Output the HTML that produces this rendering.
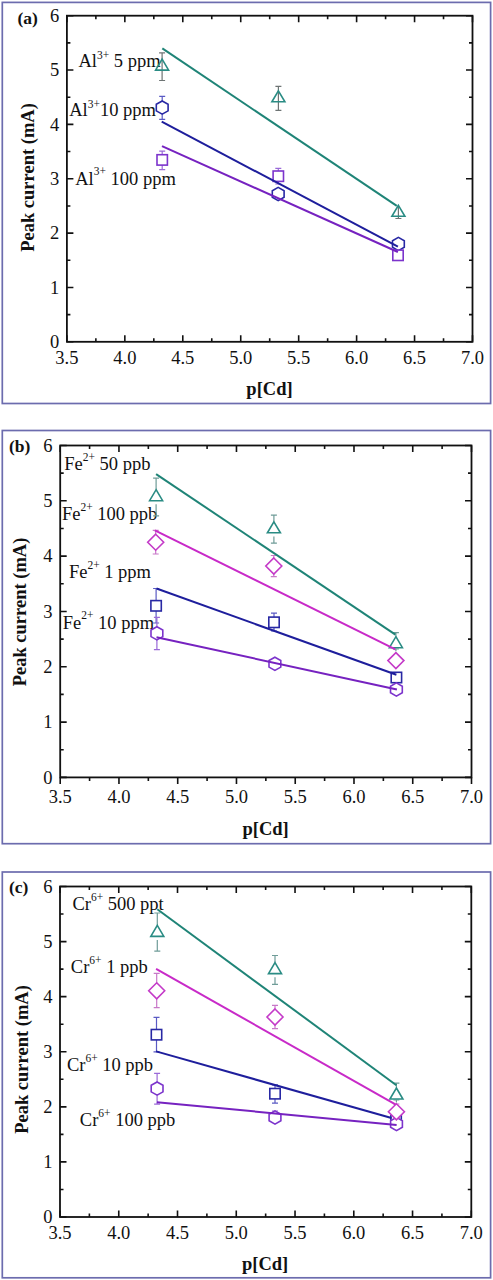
<!DOCTYPE html><html><head><meta charset="utf-8"><style>html,body{margin:0;padding:0;background:#fff;}svg{display:block;}</style></head><body>
<svg width="493" height="1280" viewBox="0 0 493 1280" font-family="'Liberation Serif', serif" fill="#111">
<rect x="2.3" y="2.4" width="488.3" height="401.1" fill="none" stroke="#6c6cae" stroke-width="1.7"/>
<rect x="66.9" y="15.7" width="405.6" height="326.1" fill="none" stroke="#111" stroke-width="1.8"/>
<path d="M66.90,341.8v-6.5 M66.90,15.7v6.5 M95.87,341.8v-3.5 M95.87,15.7v3.5 M124.84,341.8v-6.5 M124.84,15.7v6.5 M153.81,341.8v-3.5 M153.81,15.7v3.5 M182.79,341.8v-6.5 M182.79,15.7v6.5 M211.76,341.8v-3.5 M211.76,15.7v3.5 M240.73,341.8v-6.5 M240.73,15.7v6.5 M269.70,341.8v-3.5 M269.70,15.7v3.5 M298.67,341.8v-6.5 M298.67,15.7v6.5 M327.64,341.8v-3.5 M327.64,15.7v3.5 M356.61,341.8v-6.5 M356.61,15.7v6.5 M385.59,341.8v-3.5 M385.59,15.7v3.5 M414.56,341.8v-6.5 M414.56,15.7v6.5 M443.53,341.8v-3.5 M443.53,15.7v3.5 M472.50,341.8v-6.5 M472.50,15.7v6.5 M66.9,341.80h6.5 M472.5,341.80h-6.5 M66.9,314.62h3.5 M472.5,314.62h-3.5 M66.9,287.45h6.5 M472.5,287.45h-6.5 M66.9,260.27h3.5 M472.5,260.27h-3.5 M66.9,233.10h6.5 M472.5,233.10h-6.5 M66.9,205.93h3.5 M472.5,205.93h-3.5 M66.9,178.75h6.5 M472.5,178.75h-6.5 M66.9,151.57h3.5 M472.5,151.57h-3.5 M66.9,124.40h6.5 M472.5,124.40h-6.5 M66.9,97.22h3.5 M472.5,97.22h-3.5 M66.9,70.05h6.5 M472.5,70.05h-6.5 M66.9,42.88h3.5 M472.5,42.88h-3.5 M66.9,15.70h6.5 M472.5,15.70h-6.5" stroke="#111" stroke-width="1.6" fill="none"/>
<text x="59.300000000000004" y="348.10" text-anchor="end" font-size="18.5">0</text>
<text x="59.300000000000004" y="293.75" text-anchor="end" font-size="18.5">1</text>
<text x="59.300000000000004" y="239.40" text-anchor="end" font-size="18.5">2</text>
<text x="59.300000000000004" y="185.05" text-anchor="end" font-size="18.5">3</text>
<text x="59.300000000000004" y="130.70" text-anchor="end" font-size="18.5">4</text>
<text x="59.300000000000004" y="76.35" text-anchor="end" font-size="18.5">5</text>
<text x="59.300000000000004" y="22.00" text-anchor="end" font-size="18.5">6</text>
<text x="66.90" y="364" text-anchor="middle" font-size="18.5">3.5</text>
<text x="124.84" y="364" text-anchor="middle" font-size="18.5">4.0</text>
<text x="182.79" y="364" text-anchor="middle" font-size="18.5">4.5</text>
<text x="240.73" y="364" text-anchor="middle" font-size="18.5">5.0</text>
<text x="298.67" y="364" text-anchor="middle" font-size="18.5">5.5</text>
<text x="356.61" y="364" text-anchor="middle" font-size="18.5">6.0</text>
<text x="414.56" y="364" text-anchor="middle" font-size="18.5">6.5</text>
<text x="472.50" y="364" text-anchor="middle" font-size="18.5">7.0</text>
<text x="269.5" y="394.5" text-anchor="middle" font-size="18.5" font-weight="bold">p[Cd]</text>
<text transform="translate(33.6,177.5) rotate(-90)" text-anchor="middle" font-size="18.5" font-weight="bold">Peak current (mA)</text>
<text x="17.5" y="24.2" font-size="17.5" font-weight="bold">(a)</text>
<text x="78.5" y="66.8" font-size="18.5">Al<tspan font-size="11.47" dy="-7.7">3+</tspan><tspan dy="7.7"> 5 ppm</tspan></text>
<text x="69.2" y="116.4" font-size="18.5">Al<tspan font-size="11.47" dy="-8.8">3+</tspan><tspan dy="8.8">10 ppm</tspan></text>
<text x="75.2" y="184.6" font-size="18.5">Al<tspan font-size="11.47" dy="-9.2">3+</tspan><tspan dy="9.2"> 100 ppm</tspan></text>
<path d="M162.1,52.8V80.5M159.1,52.8h6M159.1,80.5h6" stroke="#6e7474" stroke-width="1.2" fill="none"/>
<path d="M162.1,59.1L168.6,70.10000000000001H155.6Z" stroke="#2a8c84" stroke-width="1.6" fill="none" stroke-linejoin="miter"/>
<path d="M278.4,86.3V110.3M275.4,86.3h6M275.4,110.3h6" stroke="#6e7474" stroke-width="1.2" fill="none"/>
<path d="M278.4,90.80000000000001L284.9,101.80000000000001H271.9Z" stroke="#2a8c84" stroke-width="1.6" fill="none" stroke-linejoin="miter"/>
<path d="M398.4,205V218.5M395.4,218.5h6" stroke="#6e7474" stroke-width="1.2" fill="none"/>
<path d="M398.4,205.3L404.9,216.3H391.9Z" stroke="#2a8c84" stroke-width="1.6" fill="none" stroke-linejoin="miter"/>
<path d="M162.2,96.3V101.0M162.2,114.19999999999999V119.4M159.2,96.3h6M159.2,119.4h6" stroke="#5a5ac4" stroke-width="1.2" fill="none"/>
<path d="M162.2,101.0L168.1,104.3V110.89999999999999L162.2,114.19999999999999L156.29999999999998,110.89999999999999V104.3Z" stroke="#2828a4" stroke-width="1.6" fill="#fff"/>
<path d="M278.2,190V187.4M278.2,200.6V198M275.2,190h6M275.2,198h6" stroke="#5a5ac4" stroke-width="1.2" fill="none"/>
<path d="M278.2,187.4L284.09999999999997,190.7V197.3L278.2,200.6L272.3,197.3V190.7Z" stroke="#2828a4" stroke-width="1.6" fill="#fff"/>
<path d="M398.4,240V237.4M398.4,250.6V248M395.4,240h6M395.4,248h6" stroke="#5a5ac4" stroke-width="1.2" fill="none"/>
<path d="M398.4,237.4L404.29999999999995,240.7V247.3L398.4,250.6L392.5,247.3V240.7Z" stroke="#2828a4" stroke-width="1.6" fill="#fff"/>
<path d="M162.2,151.1V154.70000000000002M162.2,165.1V169.6M159.2,151.1h6M159.2,169.6h6" stroke="#9a6ad8" stroke-width="1.2" fill="none"/>
<rect x="157.0" y="154.70000000000002" width="10.4" height="10.4" stroke="#7c34cc" stroke-width="1.6" fill="#fff"/>
<path d="M278.3,168.3V171.0M278.3,181.39999999999998V184M275.3,168.3h6M275.3,184h6" stroke="#9a6ad8" stroke-width="1.2" fill="none"/>
<rect x="273.1" y="171.0" width="10.4" height="10.4" stroke="#7c34cc" stroke-width="1.6" fill="#fff"/>
<path d="M398,252V250.10000000000002M398,260.5V258M395.0,252h6M395.0,258h6" stroke="#9a6ad8" stroke-width="1.2" fill="none"/>
<rect x="392.8" y="250.10000000000002" width="10.4" height="10.4" stroke="#7c34cc" stroke-width="1.6" fill="#fff"/>
<line x1="162.3" y1="48.4" x2="396.8" y2="205.9" stroke="#1f8477" stroke-width="2"/>
<line x1="161.7" y1="121.6" x2="397.9" y2="246.7" stroke="#1e1e9c" stroke-width="2"/>
<line x1="162" y1="146.1" x2="397.9" y2="252" stroke="#7622c0" stroke-width="2"/>
<rect x="2.3" y="430.5" width="488.3" height="413.20000000000005" fill="none" stroke="#6c6cae" stroke-width="1.7"/>
<rect x="60.2" y="445.5" width="411.3" height="331.9" fill="none" stroke="#111" stroke-width="1.8"/>
<path d="M60.20,777.4v6.5 M60.20,445.5v6.5 M89.58,777.4v3.5 M89.58,445.5v3.5 M118.96,777.4v6.5 M118.96,445.5v6.5 M148.34,777.4v3.5 M148.34,445.5v3.5 M177.71,777.4v6.5 M177.71,445.5v6.5 M207.09,777.4v3.5 M207.09,445.5v3.5 M236.47,777.4v6.5 M236.47,445.5v6.5 M265.85,777.4v3.5 M265.85,445.5v3.5 M295.23,777.4v6.5 M295.23,445.5v6.5 M324.61,777.4v3.5 M324.61,445.5v3.5 M353.99,777.4v6.5 M353.99,445.5v6.5 M383.36,777.4v3.5 M383.36,445.5v3.5 M412.74,777.4v6.5 M412.74,445.5v6.5 M442.12,777.4v3.5 M442.12,445.5v3.5 M471.50,777.4v6.5 M471.50,445.5v6.5 M60.2,777.40h6.5 M471.5,777.40h-6.5 M60.2,749.74h3.5 M471.5,749.74h-3.5 M60.2,722.08h6.5 M471.5,722.08h-6.5 M60.2,694.42h3.5 M471.5,694.42h-3.5 M60.2,666.77h6.5 M471.5,666.77h-6.5 M60.2,639.11h3.5 M471.5,639.11h-3.5 M60.2,611.45h6.5 M471.5,611.45h-6.5 M60.2,583.79h3.5 M471.5,583.79h-3.5 M60.2,556.13h6.5 M471.5,556.13h-6.5 M60.2,528.48h3.5 M471.5,528.48h-3.5 M60.2,500.82h6.5 M471.5,500.82h-6.5 M60.2,473.16h3.5 M471.5,473.16h-3.5 M60.2,445.50h6.5 M471.5,445.50h-6.5" stroke="#111" stroke-width="1.6" fill="none"/>
<text x="52.6" y="783.70" text-anchor="end" font-size="18.5">0</text>
<text x="52.6" y="728.38" text-anchor="end" font-size="18.5">1</text>
<text x="52.6" y="673.07" text-anchor="end" font-size="18.5">2</text>
<text x="52.6" y="617.75" text-anchor="end" font-size="18.5">3</text>
<text x="52.6" y="562.43" text-anchor="end" font-size="18.5">4</text>
<text x="52.6" y="507.12" text-anchor="end" font-size="18.5">5</text>
<text x="52.6" y="451.80" text-anchor="end" font-size="18.5">6</text>
<text x="60.20" y="803.3" text-anchor="middle" font-size="18.5">3.5</text>
<text x="118.96" y="803.3" text-anchor="middle" font-size="18.5">4.0</text>
<text x="177.71" y="803.3" text-anchor="middle" font-size="18.5">4.5</text>
<text x="236.47" y="803.3" text-anchor="middle" font-size="18.5">5.0</text>
<text x="295.23" y="803.3" text-anchor="middle" font-size="18.5">5.5</text>
<text x="353.99" y="803.3" text-anchor="middle" font-size="18.5">6.0</text>
<text x="412.74" y="803.3" text-anchor="middle" font-size="18.5">6.5</text>
<text x="471.50" y="803.3" text-anchor="middle" font-size="18.5">7.0</text>
<text x="265.6" y="835" text-anchor="middle" font-size="18.5" font-weight="bold">p[Cd]</text>
<text transform="translate(25.5,612) rotate(-90)" text-anchor="middle" font-size="18.5" font-weight="bold">Peak current (mA)</text>
<text x="9" y="451.5" font-size="17.5" font-weight="bold">(b)</text>
<text x="64.2" y="469.9" font-size="18.5">Fe<tspan font-size="11.47" dy="-9.2">2+</tspan><tspan dy="9.2"> 50 ppb</tspan></text>
<text x="61.9" y="520.1" font-size="18.5">Fe<tspan font-size="11.47" dy="-9.3">2+</tspan><tspan dy="9.3"> 100 ppb</tspan></text>
<text x="68.9" y="577.8" font-size="18.5">Fe<tspan font-size="11.47" dy="-9.3">2+</tspan><tspan dy="9.3"> 1 ppm</tspan></text>
<text x="62.7" y="628.5" font-size="18.5">Fe<tspan font-size="11.47" dy="-9.3">2+</tspan><tspan dy="9.3"> 10 ppm</tspan></text>
<path d="M156.1,478.1V489.7M156.1,504.3V515.8M153.1,478.1h6M153.1,515.8h6" stroke="#6f9c98" stroke-width="1.2" fill="none"/>
<path d="M156.1,489.7L162.6,500.7H149.6Z" stroke="#2a8c84" stroke-width="1.6" fill="#fff" stroke-linejoin="miter"/>
<path d="M273.9,515.2V521.8M273.9,536.4V543.2M270.9,515.2h6M270.9,543.2h6" stroke="#6f9c98" stroke-width="1.2" fill="none"/>
<path d="M273.9,521.8L280.4,532.8H267.4Z" stroke="#2a8c84" stroke-width="1.6" fill="#fff" stroke-linejoin="miter"/>
<path d="M395.9,632.7V636.6999999999999M395.9,651.3V649M392.9,632.7h6M392.9,649h6" stroke="#6f9c98" stroke-width="1.2" fill="none"/>
<path d="M395.9,636.6999999999999L402.4,647.6999999999999H389.4Z" stroke="#2a8c84" stroke-width="1.6" fill="#fff" stroke-linejoin="miter"/>
<path d="M155.7,530.4V534.2M155.7,550.2V554M152.7,530.4h6M152.7,554h6" stroke="#c878c8" stroke-width="1.2" fill="none"/>
<path d="M155.7,534.2L163.7,542.2L155.7,550.2L147.7,542.2Z" stroke="#c43ac8" stroke-width="1.6" fill="#fff"/>
<path d="M273.8,555.5V558M273.8,574V576.6M270.8,555.5h6M270.8,576.6h6" stroke="#c878c8" stroke-width="1.2" fill="none"/>
<path d="M273.8,558L281.8,566L273.8,574L265.8,566Z" stroke="#c43ac8" stroke-width="1.6" fill="#fff"/>
<path d="M395.9,656V652.6M395.9,668.6V665M392.9,656h6M392.9,665h6" stroke="#c878c8" stroke-width="1.2" fill="none"/>
<path d="M395.9,652.6L403.9,660.6L395.9,668.6L387.9,660.6Z" stroke="#c43ac8" stroke-width="1.6" fill="#fff"/>
<path d="M156.1,588.5V600.5999999999999M156.1,611.0V623M153.1,588.5h6M153.1,623h6" stroke="#5a5ac4" stroke-width="1.2" fill="none"/>
<rect x="150.9" y="600.5999999999999" width="10.4" height="10.4" stroke="#2828a4" stroke-width="1.6" fill="#fff"/>
<path d="M274,613.2V617.0999999999999M274,627.5V631M271.0,613.2h6M271.0,631h6" stroke="#5a5ac4" stroke-width="1.2" fill="none"/>
<rect x="268.8" y="617.0999999999999" width="10.4" height="10.4" stroke="#2828a4" stroke-width="1.6" fill="#fff"/>
<path d="M396.4,675V672.3M396.4,682.7V680M393.4,675h6M393.4,680h6" stroke="#5a5ac4" stroke-width="1.2" fill="none"/>
<rect x="391.2" y="672.3" width="10.4" height="10.4" stroke="#2828a4" stroke-width="1.6" fill="#fff"/>
<path d="M156.9,617.3V626.6999999999999M156.9,639.9V649.7M153.9,617.3h6M153.9,649.7h6" stroke="#9a6ad8" stroke-width="1.2" fill="none"/>
<path d="M156.9,626.6999999999999L162.8,630.0V636.5999999999999L156.9,639.9L151.0,636.5999999999999V630.0Z" stroke="#7c34cc" stroke-width="1.6" fill="#fff"/>
<path d="M274.9,660V657.1999999999999M274.9,670.4V668M271.9,660h6M271.9,668h6" stroke="#9a6ad8" stroke-width="1.2" fill="none"/>
<path d="M274.9,657.1999999999999L280.79999999999995,660.5V667.0999999999999L274.9,670.4L269.0,667.0999999999999V660.5Z" stroke="#7c34cc" stroke-width="1.6" fill="#fff"/>
<path d="M396.4,686V682.9M396.4,696.1V693M393.4,686h6M393.4,693h6" stroke="#9a6ad8" stroke-width="1.2" fill="none"/>
<path d="M396.4,682.9L402.29999999999995,686.2V692.8L396.4,696.1L390.5,692.8V686.2Z" stroke="#7c34cc" stroke-width="1.6" fill="#fff"/>
<line x1="156.1" y1="474.1" x2="395.4" y2="634.7" stroke="#1f8477" stroke-width="2"/>
<line x1="154.9" y1="530.4" x2="395.4" y2="649.4" stroke="#c82ac8" stroke-width="2"/>
<line x1="156.5" y1="588.5" x2="396.4" y2="674.8" stroke="#1e1e9c" stroke-width="2"/>
<line x1="156.5" y1="637.2" x2="396.9" y2="689.5" stroke="#7622c0" stroke-width="2"/>
<rect x="2.3" y="872" width="488.3" height="405.79999999999995" fill="none" stroke="#6c6cae" stroke-width="1.7"/>
<rect x="60" y="886.5" width="411.3" height="330.5" fill="none" stroke="#111" stroke-width="1.8"/>
<path d="M60.00,1217v-6.5 M60.00,886.5v6.5 M89.38,1217v-3.5 M89.38,886.5v3.5 M118.76,1217v-6.5 M118.76,886.5v6.5 M148.14,1217v-3.5 M148.14,886.5v3.5 M177.51,1217v-6.5 M177.51,886.5v6.5 M206.89,1217v-3.5 M206.89,886.5v3.5 M236.27,1217v-6.5 M236.27,886.5v6.5 M265.65,1217v-3.5 M265.65,886.5v3.5 M295.03,1217v-6.5 M295.03,886.5v6.5 M324.41,1217v-3.5 M324.41,886.5v3.5 M353.79,1217v-6.5 M353.79,886.5v6.5 M383.16,1217v-3.5 M383.16,886.5v3.5 M412.54,1217v-6.5 M412.54,886.5v6.5 M441.92,1217v-3.5 M441.92,886.5v3.5 M471.30,1217v-6.5 M471.30,886.5v6.5 M60,1217.00h6.5 M471.3,1217.00h-6.5 M60,1189.46h3.5 M471.3,1189.46h-3.5 M60,1161.92h6.5 M471.3,1161.92h-6.5 M60,1134.38h3.5 M471.3,1134.38h-3.5 M60,1106.83h6.5 M471.3,1106.83h-6.5 M60,1079.29h3.5 M471.3,1079.29h-3.5 M60,1051.75h6.5 M471.3,1051.75h-6.5 M60,1024.21h3.5 M471.3,1024.21h-3.5 M60,996.67h6.5 M471.3,996.67h-6.5 M60,969.12h3.5 M471.3,969.12h-3.5 M60,941.58h6.5 M471.3,941.58h-6.5 M60,914.04h3.5 M471.3,914.04h-3.5 M60,886.50h6.5 M471.3,886.50h-6.5" stroke="#111" stroke-width="1.6" fill="none"/>
<text x="52.4" y="1223.30" text-anchor="end" font-size="18.5">0</text>
<text x="52.4" y="1168.22" text-anchor="end" font-size="18.5">1</text>
<text x="52.4" y="1113.13" text-anchor="end" font-size="18.5">2</text>
<text x="52.4" y="1058.05" text-anchor="end" font-size="18.5">3</text>
<text x="52.4" y="1002.97" text-anchor="end" font-size="18.5">4</text>
<text x="52.4" y="947.88" text-anchor="end" font-size="18.5">5</text>
<text x="52.4" y="892.80" text-anchor="end" font-size="18.5">6</text>
<text x="60.00" y="1239.3" text-anchor="middle" font-size="18.5">3.5</text>
<text x="118.76" y="1239.3" text-anchor="middle" font-size="18.5">4.0</text>
<text x="177.51" y="1239.3" text-anchor="middle" font-size="18.5">4.5</text>
<text x="236.27" y="1239.3" text-anchor="middle" font-size="18.5">5.0</text>
<text x="295.03" y="1239.3" text-anchor="middle" font-size="18.5">5.5</text>
<text x="353.79" y="1239.3" text-anchor="middle" font-size="18.5">6.0</text>
<text x="412.54" y="1239.3" text-anchor="middle" font-size="18.5">6.5</text>
<text x="471.30" y="1239.3" text-anchor="middle" font-size="18.5">7.0</text>
<text x="265.1" y="1270" text-anchor="middle" font-size="18.5" font-weight="bold">p[Cd]</text>
<text transform="translate(27.5,1059.5) rotate(-90)" text-anchor="middle" font-size="18.5" font-weight="bold">Peak current (mA)</text>
<text x="9" y="892.5" font-size="17.5" font-weight="bold">(c)</text>
<text x="72.4" y="909.5" font-size="18.5">Cr<tspan font-size="11.47" dy="-8.9">6+</tspan><tspan dy="8.9"> 500 ppt</tspan></text>
<text x="70.8" y="973.1" font-size="18.5">Cr<tspan font-size="11.47" dy="-8.9">6+</tspan><tspan dy="8.9"> 1 ppb</tspan></text>
<text x="66.9" y="1070.7" font-size="18.5">Cr<tspan font-size="11.47" dy="-8.9">6+</tspan><tspan dy="8.9"> 10 ppb</tspan></text>
<text x="79.8" y="1126" font-size="18.5">Cr<tspan font-size="11.47" dy="-8.9">6+</tspan><tspan dy="8.9"> 100 ppb</tspan></text>
<path d="M157.3,913V925.4M157.3,940.0V951.1M154.3,913h6M154.3,951.1h6" stroke="#6f9c98" stroke-width="1.2" fill="none"/>
<path d="M157.3,925.4L163.8,936.4H150.8Z" stroke="#2a8c84" stroke-width="1.6" fill="#fff" stroke-linejoin="miter"/>
<path d="M275,955.5V962.6M275,977.2V984.3M272.0,955.5h6M272.0,984.3h6" stroke="#6f9c98" stroke-width="1.2" fill="none"/>
<path d="M275,962.6L281.5,973.6H268.5Z" stroke="#2a8c84" stroke-width="1.6" fill="#fff" stroke-linejoin="miter"/>
<path d="M396.4,1083.2V1088.0M396.4,1102.6V1100M393.4,1083.2h6M393.4,1100h6" stroke="#6f9c98" stroke-width="1.2" fill="none"/>
<path d="M396.4,1088.0L402.9,1099.0H389.9Z" stroke="#2a8c84" stroke-width="1.6" fill="#fff" stroke-linejoin="miter"/>
<path d="M156.5,1017.3V1029.5M156.5,1039.9V1051.8M153.5,1017.3h6M153.5,1051.8h6" stroke="#5a5ac4" stroke-width="1.2" fill="none"/>
<rect x="151.3" y="1029.5" width="10.4" height="10.4" stroke="#2828a4" stroke-width="1.6" fill="#fff"/>
<path d="M275,1084.9V1088.5M275,1098.9V1103.2M272.0,1084.9h6M272.0,1103.2h6" stroke="#5a5ac4" stroke-width="1.2" fill="none"/>
<rect x="269.8" y="1088.5" width="10.4" height="10.4" stroke="#2828a4" stroke-width="1.6" fill="#fff"/>
<path d="M396.1,1117V1115.3M396.1,1125.7V1126M393.1,1117h6M393.1,1126h6" stroke="#5a5ac4" stroke-width="1.2" fill="none"/>
<rect x="390.90000000000003" y="1115.3" width="10.4" height="10.4" stroke="#2828a4" stroke-width="1.6" fill="#fff"/>
<path d="M157.1,1073.4V1082.0M157.1,1095.1999999999998V1104.2M154.1,1073.4h6M154.1,1104.2h6" stroke="#9a6ad8" stroke-width="1.2" fill="none"/>
<path d="M157.1,1082.0L163.0,1085.3V1091.8999999999999L157.1,1095.1999999999998L151.2,1091.8999999999999V1085.3Z" stroke="#7c34cc" stroke-width="1.6" fill="#fff"/>
<path d="M275,1111V1110.9M275,1124.1V1122M272.0,1111h6M272.0,1122h6" stroke="#9a6ad8" stroke-width="1.2" fill="none"/>
<path d="M275,1110.9L280.9,1114.2V1120.8L275,1124.1L269.1,1120.8V1114.2Z" stroke="#7c34cc" stroke-width="1.6" fill="#fff"/>
<path d="M396.5,1119V1117.4M396.5,1130.6V1129M393.5,1119h6M393.5,1129h6" stroke="#9a6ad8" stroke-width="1.2" fill="none"/>
<path d="M396.5,1117.4L402.4,1120.7V1127.3L396.5,1130.6L390.6,1127.3V1120.7Z" stroke="#7c34cc" stroke-width="1.6" fill="#fff"/>
<path d="M156.7,973.4V982.8M156.7,998.8V1007.6M153.7,973.4h6M153.7,1007.6h6" stroke="#c878c8" stroke-width="1.2" fill="none"/>
<path d="M156.7,982.8L164.7,990.8L156.7,998.8L148.7,990.8Z" stroke="#c43ac8" stroke-width="1.6" fill="#fff"/>
<path d="M275,1005.4V1009M275,1025V1028.6M272.0,1005.4h6M272.0,1028.6h6" stroke="#c878c8" stroke-width="1.2" fill="none"/>
<path d="M275,1009L283,1017L275,1025L267,1017Z" stroke="#c43ac8" stroke-width="1.6" fill="#fff"/>
<path d="M396.4,1104V1103.8M396.4,1119.8V1118M393.4,1104h6M393.4,1118h6" stroke="#c878c8" stroke-width="1.2" fill="none"/>
<path d="M396.4,1103.8L404.4,1111.8L396.4,1119.8L388.4,1111.8Z" stroke="#c43ac8" stroke-width="1.6" fill="#fff"/>
<line x1="157.3" y1="909.3" x2="396.4" y2="1085.2" stroke="#1f8477" stroke-width="2"/>
<line x1="156.1" y1="968.9" x2="395.4" y2="1104.3" stroke="#c82ac8" stroke-width="2"/>
<line x1="156.1" y1="1051.4" x2="391.5" y2="1118.0" stroke="#1e1e9c" stroke-width="2"/>
<line x1="156.9" y1="1102.2" x2="396.6" y2="1124.9" stroke="#7622c0" stroke-width="2"/>
</svg></body></html>
